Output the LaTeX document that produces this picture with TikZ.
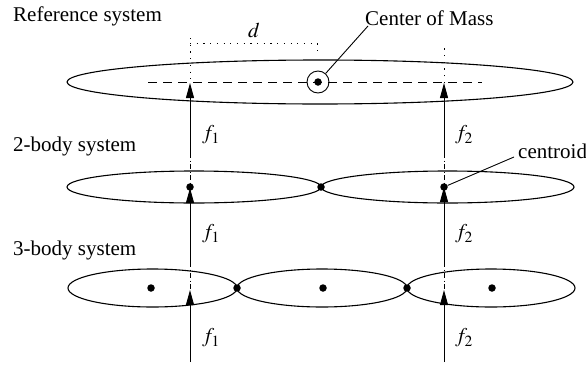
\documentclass[tikz,border=0pt]{standalone}
\usepackage{mathptmx}
\usepackage{fontspec}
\setmainfont{Liberation Serif}
\usetikzlibrary{arrows.meta,shapes.geometric}
\begin{document}
\begin{tikzpicture}[x=1pt,y=-1pt,
  font=\fontsize{21}{25}\selectfont,
  body/.style={draw, ellipse, line width=1.1pt, inner sep=0pt},
  dotm/.style={circle, fill, inner sep=0pt, minimum size=7.5pt},
  lbl/.style={inner sep=0pt},
  force/.style={line width=0.9pt, -{Triangle[length=15pt,width=8pt]}},
  actline/.style={line width=0.7pt, dash pattern=on 5pt off 2.5pt on 1pt off 2.5pt},
  dimline/.style={line width=0.9pt, dash pattern=on 1.2pt off 5.5pt},
  axisline/.style={line width=0.9pt, dash pattern=on 9pt off 6pt},
  leader/.style={line width=0.9pt}]
\useasboundingbox (0,0) rectangle (586,367);

% ---------- Reference system ----------
\node[lbl, anchor=base west] (tref) at (13,21) {Reference system};
\node[body, minimum width=506pt, minimum height=44pt] (ref) at (320,82) {};
\coordinate (dl) at (148,82);
\coordinate (dr) at (482,82);
\draw[axisline] (dl) -- (dr);
\node[dotm] (com) at (318,82) {};
\node[draw, circle, line width=0.9pt, minimum size=22pt, inner sep=0pt] (comc) at (318,82) {};
\node[lbl, anchor=base west] (tcom) at (365,25) {Center of Mass};
\coordinate (comend) at (368,26);
\draw[leader] (comc) -- (comend);

% dimension d
\coordinate (dA) at (190,38);
\coordinate (dB) at (190,82);
\coordinate (dC) at (190,43);
\coordinate (dD) at (317,43);
\coordinate (dE) at (317,53);
\draw[dimline] (dA) -- (dB);
\draw[dimline] (dC) -- (dD) -- (dE);
\node[lbl] (tdist) at (254,30) {$d$};

% forces
\coordinate (r1s) at (190,155);
\coordinate (r1t) at (190,83);
\coordinate (r2s) at (444,155);
\coordinate (r2t) at (444,83);
\coordinate (r2u) at (444,45);
\draw[dimline] (r2t) -- (r2u);
\draw[force] (r1s) -- (r1t);
\draw[force] (r2s) -- (r2t);
\node[lbl, anchor=west] (rf1) at (202,135) {$f_1$};
\node[lbl, anchor=west] (rf2) at (455,135) {$f_2$};

% ---------- 2-body system ----------
\node[lbl, anchor=base west] (t2) at (13,151) {2-body system};
\node[body, minimum width=254pt, minimum height=32pt] (b2l) at (194,187) {};
\node[body, minimum width=253pt, minimum height=32pt] (b2r) at (447.5,187) {};
\coordinate (a2lu) at (190,153);
\coordinate (a2lc) at (190,188);
\coordinate (a2ru) at (444,153);
\coordinate (a2rc) at (444,187);
\draw[actline] (a2lu) -- (a2lc);
\draw[actline] (a2ru) -- (a2rc);
\coordinate (s2l) at (190,262);
\coordinate (s2r) at (444,262);
\draw[force] (s2l) -- (a2lc);
\draw[force] (s2r) -- (a2rc);
\node[dotm] (j2) at (321,187) {};
\node[dotm] (c2l) at (190,187) {};
\node[dotm] (c2r) at (444,187) {};
\node[lbl, anchor=base west] (tcen) at (518,158) {centroid};
\coordinate (cenend) at (514,157);
\draw[leader] (c2r) -- (cenend);
\node[lbl, anchor=west] (bf1) at (202,234) {$f_1$};
\node[lbl, anchor=west] (bf2) at (455,234) {$f_2$};

% ---------- 3-body system ----------
\node[lbl, anchor=base west] (t3) at (13,255) {3-body system};
\node[body, minimum width=169pt, minimum height=38pt] (b3a) at (152.5,288) {};
\node[body, minimum width=170pt, minimum height=38pt] (b3b) at (322,288) {};
\node[body, minimum width=168pt, minimum height=38pt] (b3c) at (491,288) {};
\coordinate (a3lu) at (190,262);
\coordinate (a3lc) at (190,290);
\coordinate (a3ru) at (444,262);
\coordinate (a3rc) at (444,290);
\draw[actline] (a3lu) -- (a3lc);
\draw[actline] (a3ru) -- (a3rc);
\coordinate (s3l) at (190,362);
\coordinate (s3r) at (444,362);
\draw[force] (s3l) -- (a3lc);
\draw[force] (s3r) -- (a3rc);
\node[dotm] (j3a) at (237,288) {};
\node[dotm] (j3b) at (407,288) {};
\node[dotm] (c3a) at (151,288) {};
\node[dotm] (c3b) at (323,288) {};
\node[dotm] (c3c) at (492,288) {};
\node[lbl, anchor=west] (cf1) at (202,338) {$f_1$};
\node[lbl, anchor=west] (cf2) at (455,338) {$f_2$};
\end{tikzpicture}
\end{document}
